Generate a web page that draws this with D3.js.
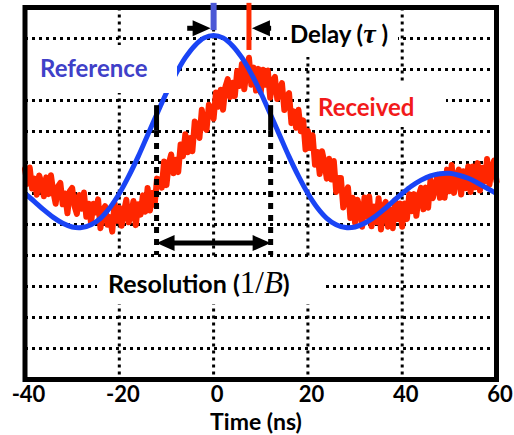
<!DOCTYPE html>
<html><head><meta charset="utf-8">
<script src="https://cdn.jsdelivr.net/npm/d3@7"></script>
<style>html,body{margin:0;padding:0;background:#fff}svg{display:block}</style>
</head><body>
<svg id="chart" width="514" height="435"></svg>
<script>
// Axis ticks and grid
const xTicks = [-40, -20, 0, 20, 40, 60];
const yGrid = [1, 2, 3, 4, 5, 6, 7, 8, 9, 10, 11];

// Reference pulse (time in ns, amplitude in grid units)
const refTime = [-40,-38,-36,-34,-32,-30,-28,-26,-24,-22,-20,-18,-16,-14,-12,-10,-8,-6,-4,-2,
  0,2,4,6,8,10,12,14,16,18,20,22,24,26,28,30,32,34,36,38,40,42,44,46,48,50,52,54,56,58,60];
const refAmp = [6.00,5.74,5.47,5.23,5.04,4.92,4.90,4.99,5.20,5.54,6.00,6.56,7.19,7.88,8.57,9.25,9.86,10.38,10.77,11.02,
  11.10,11.02,10.77,10.38,9.86,9.25,8.57,7.88,7.19,6.56,6.00,5.54,5.20,4.99,4.90,4.92,5.04,5.23,5.47,5.74,
  6.00,6.24,6.43,6.57,6.64,6.65,6.59,6.49,6.34,6.17,6.00];

// Received pulse, sampled every 0.5 ns from -40 ns
const rxStart = -40, rxStep = 0.5;
const rxAmp = [
  6.79,6.31,6.84,6.16,6.48,5.96,6.58,6.34,5.91,6.52,
  5.98,6.59,6.06,5.67,6.23,6.34,5.65,6.00,5.36,6.07,
  6.18,5.59,5.34,5.95,5.51,6.03,5.25,5.67,5.05,5.67,
  5.39,5.81,4.88,5.48,5.59,4.99,5.24,4.77,5.69,5.12,
  5.54,4.96,5.43,5.80,5.07,5.34,5.76,4.98,5.65,5.32,
  5.94,5.41,6.18,5.45,6.02,5.63,6.48,6.44,6.19,7.03,
  6.27,6.97,7.26,6.65,7.09,6.69,7.58,7.20,7.91,7.33,
  7.79,7.36,8.32,8.19,7.79,8.70,8.15,8.05,8.86,8.71,
  8.41,9.26,8.80,9.35,8.70,9.44,9.69,9.11,9.57,9.14,
  9.95,9.47,10.18,9.36,9.95,10.38,9.51,10.06,9.32,10.02,
  9.27,9.99,9.51,9.97,9.09,9.63,9.76,9.05,9.33,9.56,
  8.69,9.11,9.24,8.27,8.65,8.12,8.70,8.01,8.36,7.42,
  8.02,7.47,7.88,6.93,7.34,6.63,7.36,7.00,6.48,7.12,
  6.45,7.05,6.05,6.50,6.50,5.55,6.00,6.20,5.21,5.86,
  5.06,5.80,5.54,4.93,5.87,5.26,5.90,4.94,5.58,5.07,
  5.85,4.84,5.58,5.73,4.93,5.48,4.88,5.78,5.18,5.68,
  4.93,5.68,5.18,5.98,5.43,5.98,5.28,5.93,6.18,5.49,
  6.19,5.54,6.44,5.85,6.20,6.60,5.86,6.51,5.86,6.77,
  6.07,6.92,6.02,6.57,6.77,5.97,6.72,6.17,6.87,6.05,
  6.87,6.20,6.98,6.10,6.83,6.40,7.11,6.28,6.85,7.06,6.38];

// Annotations: delay between peaks and resolution window (ns)
const delayNs = 7.5;
const resolutionEdges = [-12.1, 12.1];

const svg = d3.select('#chart');
const X0 = 25, X1 = 496.5, Y0 = 7.5, Y1 = 379.5;
const x = d3.scaleLinear().domain([-40, 60]).range([X0, X1]);
const y = d3.scaleLinear().domain([0, 12]).range([Y1, Y0]);

const SANS = "Lato, 'Open Sans', sans-serif";
const SERIF = "'Liberation Serif', 'DejaVu Serif', serif";

svg.append('rect').attr('width', 514).attr('height', 435).attr('fill', '#fff');

// dotted grid
const grid = svg.append('g').attr('stroke', '#000').attr('stroke-width', 3).attr('stroke-dasharray', '3,4');
grid.selectAll('line.h').data(yGrid).join('line').attr('class', 'h')
  .attr('x1', X0).attr('x2', X1).attr('y1', d => y(d)).attr('y2', d => y(d));
grid.selectAll('line.v').data(xTicks.slice(1, -1)).join('line').attr('class', 'v')
  .attr('x1', d => x(d)).attr('x2', d => x(d)).attr('y1', Y0).attr('y2', Y1);

// label backgrounds that interrupt the grid
function blank(x0, y0, x1, y1) {
  svg.append('rect').attr('x', x0).attr('y', y0).attr('width', x1 - x0).attr('height', y1 - y0).attr('fill', '#fff');
}
blank(310, 82, 446, 127);   // Received
blank(287, 10, 398, 57);    // Delay
blank(97, 258, 322, 304);   // Resolution

// traces
const rxData = rxAmp.map((v, i) => [rxStart + i * rxStep, v]);
const refData = refTime.map((t, i) => [t, refAmp[i]]);

svg.append('path').datum(rxData)
  .attr('fill', 'none').attr('stroke', '#ff2600').attr('stroke-width', 6)
  .attr('stroke-linejoin', 'round').attr('stroke-linecap', 'round')
  .attr('d', d3.line().x(d => x(d[0])).y(d => y(d[1])));

svg.append('path').datum(refData)
  .attr('fill', 'none').attr('stroke', '#1a44f5').attr('stroke-width', 5)
  .attr('d', d3.line().curve(d3.curveCatmullRom).x(d => x(d[0])).y(d => y(d[1])));

blank(27, 45, 177, 93);     // Reference

// resolution markers
resolutionEdges.forEach(t => {
  svg.append('line').attr('x1', x(t)).attr('x2', x(t)).attr('y1', y(8.85)).attr('y2', y(8.02))
    .attr('stroke', '#000').attr('stroke-width', 5);
  svg.append('line').attr('x1', x(t)).attr('x2', x(t)).attr('y1', y(8.02)).attr('y2', y(4.02))
    .attr('stroke', '#000').attr('stroke-width', 5).attr('stroke-dasharray', '6,6');
});

// arrow helper: shaft from xa to xb, heads at the requested ends
function arrow(xa, xb, yy, headA, headB) {
  const L = 18, Hh = 8;
  const dir = xb > xa ? 1 : -1;
  const sa = headA ? xa + dir * (L - 2) : xa;
  const sb = headB ? xb - dir * (L - 2) : xb;
  svg.append('line').attr('x1', sa).attr('x2', sb).attr('y1', yy).attr('y2', yy)
    .attr('stroke', '#000').attr('stroke-width', 5);
  if (headB) svg.append('path').attr('fill', '#000')
    .attr('d', `M${xb},${yy}L${xb - dir * L},${yy - Hh}L${xb - dir * L},${yy + Hh}Z`);
  if (headA) svg.append('path').attr('fill', '#000')
    .attr('d', `M${xa},${yy}L${xa + dir * L},${yy - Hh}L${xa + dir * L},${yy + Hh}Z`);
}
arrow(x(resolutionEdges[0]), x(resolutionEdges[1]), y(4.40), true, true);

// plot frame
svg.append('rect').attr('x', X0).attr('y', Y0).attr('width', X1 - X0).attr('height', Y1 - Y0)
  .attr('fill', 'none').attr('stroke', '#000').attr('stroke-width', 5);

// delay markers
arrow(x(-5.6), x(0) - 3, y(11.33), false, true);
arrow(x(12.2), x(delayNs) + 3, y(11.33), false, true);
svg.append('line').attr('x1', x(0)).attr('x2', x(0)).attr('y1', y(12.15)).attr('y2', y(11.27))
  .attr('stroke', '#4b58d6').attr('stroke-width', 6);
svg.append('line').attr('x1', x(delayNs)).attr('x2', x(delayNs)).attr('y1', y(12.15)).attr('y2', y(10.63))
  .attr('stroke', '#ff2a00').attr('stroke-width', 5);

// text labels
svg.append('text').attr('x', 40).attr('y', 77).attr('font-family', SANS).attr('font-weight', 700)
  .attr('font-size', 24).attr('fill', '#4040c8').text('Reference');
svg.append('text').attr('x', 318).attr('y', 116).attr('font-family', SANS).attr('font-weight', 700)
  .attr('font-size', 24).attr('fill', '#f21a1a').text('Received');

const dl = svg.append('text').attr('x', 290).attr('y', 43).attr('font-family', SANS).attr('font-weight', 700)
  .attr('font-size', 24).attr('fill', '#000');
dl.append('tspan').text('Delay (');
dl.append('tspan').attr('font-family', SERIF).attr('font-style', 'italic').attr('font-size', 28).text('τ');
dl.append('tspan').text(' )');

const rs = svg.append('text').attr('x', 108).attr('y', 293).attr('font-family', SANS).attr('font-weight', 700)
  .attr('font-size', 25).attr('fill', '#000');
rs.append('tspan').text('Resolution (');
rs.append('tspan').attr('font-family', SERIF).attr('font-weight', 400).attr('font-size', 31).text('1/');
rs.append('tspan').attr('font-family', SERIF).attr('font-weight', 400).attr('font-style', 'italic').attr('font-size', 31).text('B');
rs.append('tspan').text(')');

// x axis
const ax = svg.append('g').attr('transform', `translate(0,${Y1})`)
  .call(d3.axisBottom(x).tickValues(xTicks).tickSize(0).tickFormat(d => String(d)));
ax.select('.domain').remove();
ax.selectAll('text').attr('font-family', SANS).attr('font-weight', 700).attr('font-size', 22)
  .attr('fill', '#000').attr('dy', null).attr('y', 22).attr('dx', 3);

svg.append('text').attr('x', 256).attr('y', 430).attr('text-anchor', 'middle')
  .attr('font-family', SANS).attr('font-weight', 700).attr('font-size', 23).attr('fill', '#000')
  .text('Time (ns)');
</script>
</body></html>
